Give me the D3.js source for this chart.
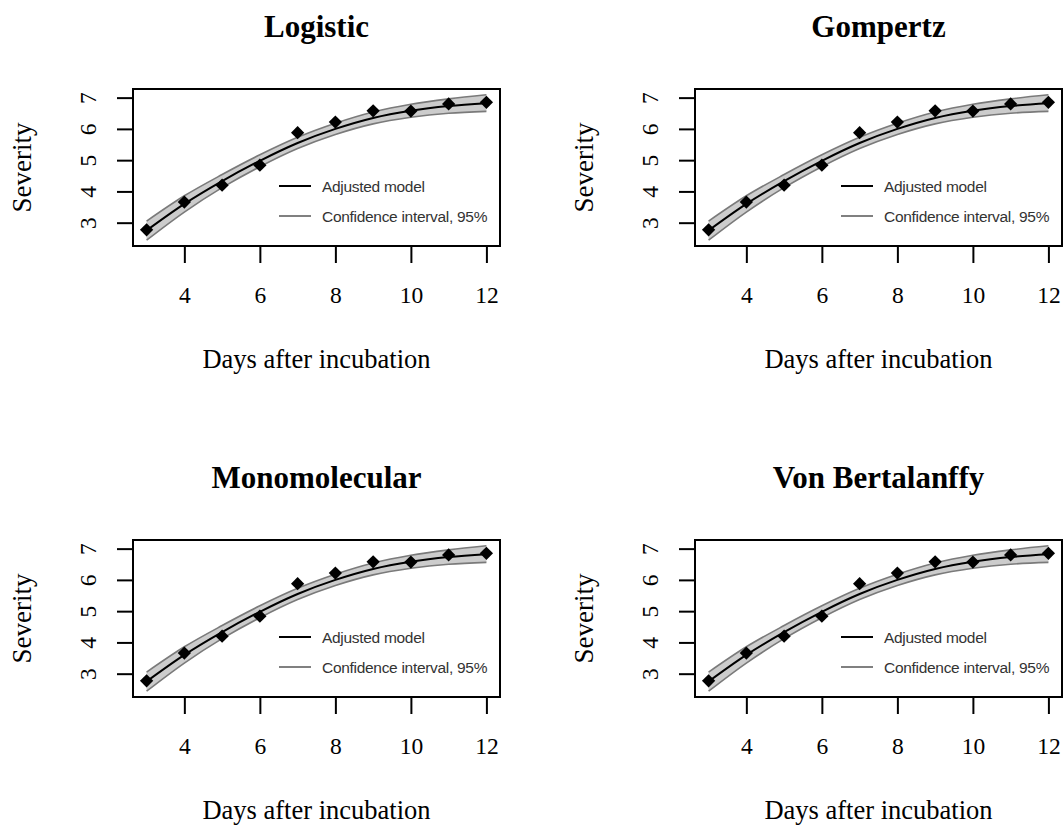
<!DOCTYPE html>
<html>
<head>
<meta charset="utf-8">
<script src="https://cdn.jsdelivr.net/npm/d3@7"></script>
<style>
  html, body { margin: 0; padding: 0; background: #ffffff; }
  svg { display: block; }
</style>
</head>
<body>
<svg id="chart" width="1064" height="828"></svg>
<script>
// ---- data ----
const modelNames = ["Logistic", "Gompertz", "Monomolecular", "Von Bertalanffy"];
const days = [3, 4, 5, 6, 7, 8, 9, 10, 11, 12];
const observed = [2.77, 3.66, 4.20, 4.84, 5.88, 6.22, 6.58, 6.57, 6.80, 6.85];
const fitted = [2.75, 3.60, 4.33, 4.98, 5.55, 6.00, 6.35, 6.58, 6.73, 6.82];
const lowerCI = [2.44, 3.34, 4.12, 4.79, 5.37, 5.82, 6.16, 6.37, 6.50, 6.56];
const upperCI = [3.05, 3.86, 4.54, 5.17, 5.73, 6.18, 6.54, 6.79, 6.96, 7.09];
const xTicks = [4, 6, 8, 10, 12];
const yTicks = [3, 4, 5, 6, 7];
const legendLabels = ["Adjusted model", "Confidence interval, 95%"];
const xLabel = "Days after incubation";
const yLabel = "Severity";

const svg = d3.select("#chart");
const serif = "'Liberation Serif', 'Times New Roman', serif";
const sans = "'Liberation Sans', Arial, sans-serif";

const panelOffsets = [[0, 0], [562, 0], [0, 451], [562, 451]];

function pad(ext) {
  const r = ext[1] - ext[0];
  return [ext[0] - 0.04 * r, ext[1] + 0.04 * r];
}

modelNames.forEach((name, i) => {
  const [ox, oy] = panelOffsets[i];
  const left = 133 + ox, right = 500 + ox, top = 89 + oy, bottom = 246 + oy;
  const g = svg.append("g");

  const x = d3.scaleLinear().domain(pad(d3.extent(days))).range([left, right]);
  const allY = observed.concat(lowerCI, upperCI);
  const y = d3.scaleLinear().domain(pad(d3.extent(allY))).range([bottom, top]);

  const rows = days.map((d, k) => ({ d, obs: observed[k], fit: fitted[k], lo: lowerCI[k], hi: upperCI[k] }));

  // band
  const area = d3.area().x(r => x(r.d)).y0(r => y(r.lo)).y1(r => y(r.hi)).curve(d3.curveMonotoneX);
  g.append("path").datum(rows).attr("d", area).attr("fill", "#cccccc").attr("stroke", "none");
  const lineLo = d3.line().x(r => x(r.d)).y(r => y(r.lo)).curve(d3.curveMonotoneX);
  const lineHi = d3.line().x(r => x(r.d)).y(r => y(r.hi)).curve(d3.curveMonotoneX);
  g.append("path").datum(rows).attr("d", lineLo).attr("fill", "none").attr("stroke", "#7a7a7a").attr("stroke-width", 1.6);
  g.append("path").datum(rows).attr("d", lineHi).attr("fill", "none").attr("stroke", "#7a7a7a").attr("stroke-width", 1.6);
  const lineFit = d3.line().x(r => x(r.d)).y(r => y(r.fit)).curve(d3.curveMonotoneX);
  g.append("path").datum(rows).attr("d", lineFit).attr("fill", "none").attr("stroke", "#000").attr("stroke-width", 2);

  // points (filled diamonds)
  const sym = d3.symbol().type(d3.symbolSquare).size(88);
  g.selectAll("path.pt").data(rows).enter().append("path")
    .attr("class", "pt")
    .attr("d", sym)
    .attr("transform", r => `translate(${x(r.d)},${y(r.obs)}) rotate(45)`)
    .attr("fill", "#000");

  // box
  g.append("rect").attr("x", left).attr("y", top).attr("width", right - left).attr("height", bottom - top)
    .attr("fill", "none").attr("stroke", "#000").attr("stroke-width", 2);

  // x axis
  const xAxis = d3.axisBottom(x).tickValues(xTicks).tickSize(17).tickPadding(0).tickFormat(d3.format("d"));
  const xa = g.append("g").attr("transform", `translate(0,${bottom})`).call(xAxis);
  xa.select(".domain").remove();
  xa.selectAll(".tick line").attr("stroke", "#000").attr("stroke-width", 2);
  xa.selectAll(".tick text").attr("font-family", serif).attr("font-size", 23.5).attr("fill", "#000")
    .attr("dy", null).attr("y", 57);

  // y axis
  const yAxis = d3.axisLeft(y).tickValues(yTicks).tickSize(16).tickFormat(d3.format("d"));
  const ya = g.append("g").attr("transform", `translate(${left},0)`).call(yAxis);
  ya.select(".domain").remove();
  ya.selectAll(".tick line").attr("stroke", "#000").attr("stroke-width", 2);
  ya.selectAll(".tick text").attr("font-family", serif).attr("font-size", 23.5).attr("fill", "#000")
    .attr("x", null).attr("dy", null)
    .attr("text-anchor", "middle")
    .attr("transform", `translate(${96 + ox - left},0) rotate(-90)`);

  // titles / labels
  const cx = (left + right) / 2;
  g.append("text").attr("x", cx).attr("y", 37 + oy).attr("text-anchor", "middle")
    .attr("font-family", serif).attr("font-weight", "bold").attr("font-size", 31).text(name);
  g.append("text").attr("x", cx).attr("y", 368 + oy).attr("text-anchor", "middle")
    .attr("font-family", serif).attr("font-size", 26.5).text(xLabel);
  g.append("text").attr("transform", `translate(${31 + ox},${(top + bottom) / 2}) rotate(-90)`)
    .attr("text-anchor", "middle").attr("font-family", serif).attr("font-size", 27).text(yLabel);

  // legend
  const legColors = ["#000000", "#808080"];
  legendLabels.forEach((lab, k) => {
    const ly = top + 97 + k * 30;
    g.append("line").attr("x1", left + 146).attr("x2", left + 178).attr("y1", ly).attr("y2", ly)
      .attr("stroke", legColors[k]).attr("stroke-width", 2);
    g.append("text").attr("x", left + 189).attr("y", ly + 5.5)
      .attr("font-family", sans).attr("font-size", 15.5).attr("letter-spacing", -0.3)
      .attr("fill", "#333").text(lab);
  });
});
</script>
</body>
</html>
